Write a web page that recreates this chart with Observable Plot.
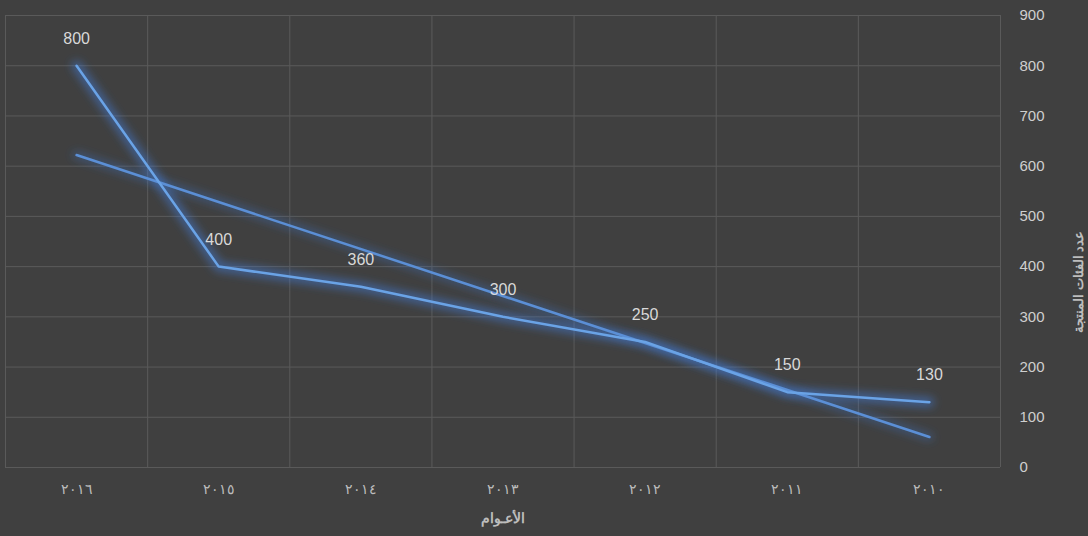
<!DOCTYPE html>
<html><head><meta charset="utf-8">
<script src="https://cdn.jsdelivr.net/npm/d3@7"></script>
<script src="https://cdn.jsdelivr.net/npm/@observablehq/plot@0.6"></script>
<style>
html,body{margin:0;padding:0;background:#404040;}
#chart{width:1088px;height:536px;}
</style></head>
<body><div id="chart"></div>
<script>
const years = ["٢٠١٦","٢٠١٥","٢٠١٤","٢٠١٣","٢٠١٢","٢٠١١","٢٠١٠"];
const values = [800, 400, 360, 300, 250, 150, 130];
const yTicks = [0,100,200,300,400,500,600,700,800,900];
const xTitle = "الأعـوام";
const yTitle = "عدد الفئات المنتجة";

const data = years.map((y,i)=>({i, year:y, value:values[i]}));
// linear trendline (least squares), as in the spreadsheet trendline
const n = data.length;
const mx = d3.mean(data,d=>d.i), my = d3.mean(data,d=>d.value);
const slope = d3.sum(data,d=>(d.i-mx)*(d.value-my))/d3.sum(data,d=>(d.i-mx)**2);
const trend = [0, n-1].map(i=>({i, value: my + slope*(i-mx)}));
const bounds = d3.range(-0.5, n, 1);

const textColor = "#d9d9d9";
const chart = Plot.plot({
  width: 1088, height: 536,
  marginLeft: 5, marginRight: 88, marginTop: 15, marginBottom: 69,
  style: {background:"#404040", color:textColor, fontFamily:"Liberation Sans, Arial, sans-serif"},
  x: {domain:[-0.5, n-0.5]},
  y: {domain:[0,900]},
  marks: [
    Plot.gridY(yTicks, {stroke:"#5a5a5a", strokeOpacity:1}),
    Plot.ruleX(bounds, {x:d=>d, y1:0, y2:900, stroke:"#5a5a5a"}),
    Plot.axisX(d3.range(n), {tickFormat:i=>years[i], tickSize:0, tickPadding:17, fontSize:14, fill:"#bdbdbd", label:null}),
    Plot.axisY(yTicks, {anchor:"right", tickSize:0, tickPadding:19, fontSize:15, fill:"#cfcfcf", label:null}),
    // glow layers
    Plot.line(trend, {x:"i", y:"value", stroke:"#3f78d8", strokeWidth:8, strokeOpacity:0.35}),
    Plot.line(data, {x:"i", y:"value", stroke:"#3f7fe0", strokeWidth:10, strokeOpacity:0.5}),
    Plot.line(trend, {x:"i", y:"value", stroke:"#5b8fd6", strokeWidth:2.5}),
    Plot.line(data, {x:"i", y:"value", stroke:"#6aa3e6", strokeWidth:2.5}),
    Plot.text(data, {x:"i", y:"value", text:d=>String(d.value), dy:-27, fill:textColor, fontSize:16}),
    Plot.text([xTitle], {frameAnchor:"bottom", dy:55, fill:"#bdbdbd", fontSize:14, fontWeight:"bold"}),
    Plot.text([yTitle], {frameAnchor:"right", dx:78, dy:-11, rotate:-90, fill:"#bdbdbd", fontSize:13, fontWeight:"bold"})
  ]
});
// add blur to glow layers
const svg = d3.select(chart);
svg.insert("defs", ":first-child").html('<filter id="glow" x="-20%" y="-20%" width="140%" height="140%"><feGaussianBlur stdDeviation="4"/></filter>');
const lines = svg.selectAll('g[aria-label="line"]').nodes();
d3.select(lines[0]).attr("filter","url(#glow)");
d3.select(lines[1]).attr("filter","url(#glow)");
svg.select('g[aria-label="x-axis tick label"]').style("letter-spacing","3px");
document.getElementById("chart").append(chart);
</script></body></html>
